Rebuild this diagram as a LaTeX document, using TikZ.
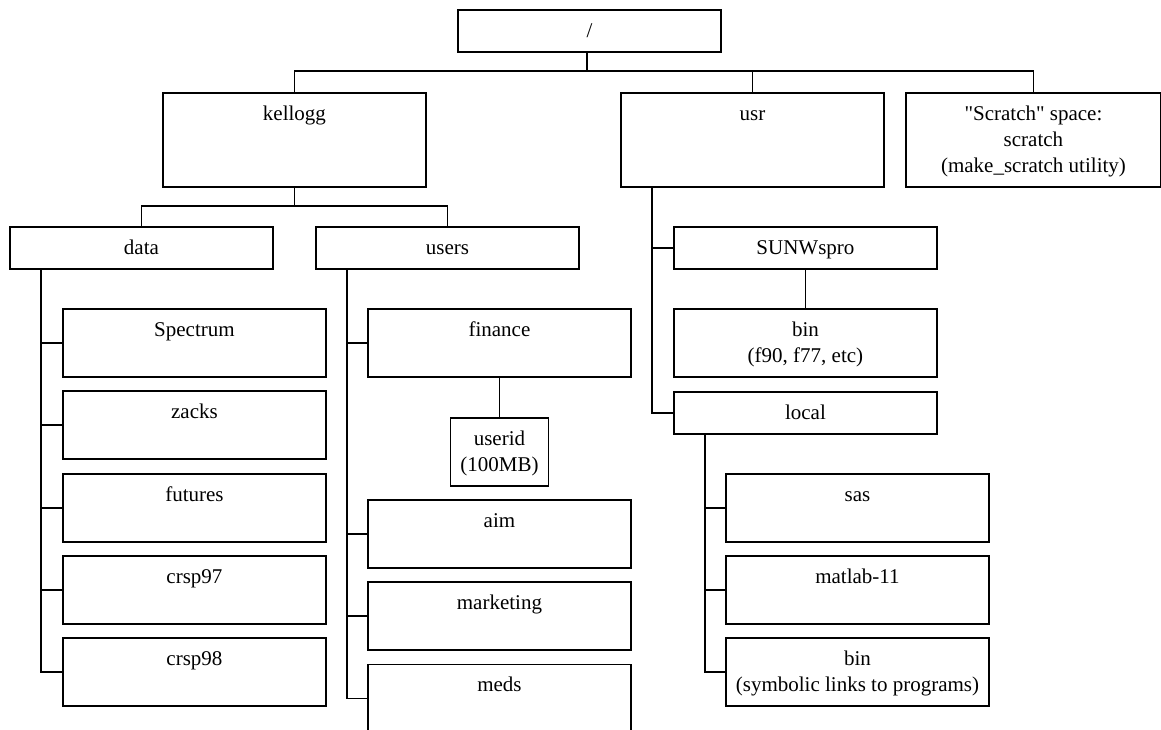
\documentclass[tikz,border=0pt]{standalone}
\usepackage{fontspec}
\setmainfont{Liberation Serif}[Ligatures=TeXOff]

\begin{document}
\begin{tikzpicture}[x=1pt, y=-1pt, line width=1.9pt,
        box/.style = {draw, anchor=north west, inner xsep=0pt, inner ysep=0pt,
                      align=center, minimum width=263pt, text height=27.5pt,
                      font=\fontsize{21}{26}\selectfont},
        short/.style = {box, text depth=14.5pt},
        leaf/.style = {box, text depth=40.5pt},
        tall/.style = {box, text depth=66.5pt},
        twolines/.style = {text height=53.5pt, text depth=14.5pt},
        threelines/.style = {text height=79.5pt, text depth=14.5pt}]
                \clip (0,0) rectangle (1161,729);

                % top of the tree
                \node[short] (root) at (457,9) {/};
                \node[tall] (kellogg) at (162,92) {kellogg};
                \node[tall] (usr) at (620,92) {usr};
                \node[tall, threelines, minimum width=255pt] (scratch) at (905,92)
                    {"Scratch" space:\\scratch\\(make\_scratch utility)};

                % kellogg
                \node[short] (data) at (9,226) {data};
                \node[short] (users) at (315,226) {users};

                \node[leaf] (spectrum) at (62,308) {Spectrum};
                \node[leaf] (zacks) at (62,390) {zacks};
                \node[leaf] (futures) at (62,473) {futures};
                \node[leaf] (crsp97) at (62,555) {crsp97};
                \node[leaf] (crsp98) at (62,637) {crsp98};

                \node[leaf] (finance) at (367,308) {finance};
                \node[leaf, twolines, minimum width=98pt] (userid) at (449.5,417)
                    {userid\\(100MB)};
                \node[leaf] (aim) at (367,499) {aim};
                \node[leaf] (marketing) at (367,581) {marketing};
                \node[leaf] (meds) at (367,663.5) {meds};

                % usr
                \node[short] (sunwspro) at (673,226) {SUNWspro};
                \node[leaf, twolines] (sunwbin) at (673,308) {bin\\(f90, f77, etc)};
                \node[short] (local) at (673,391) {local};
                \node[leaf] (sas) at (725,473) {sas};
                \node[leaf] (matlab) at (725,555) {matlab-11};
                \node[leaf, twolines] (localbin) at (725,637)
                    {bin\\(symbolic links to programs)};

                \coordinate (rootbus) at (587,71);
                \coordinate (kelloggbus) at (294.5,206);
                \coordinate (datatrunk) at (41,268);
                \coordinate (userstrunk) at (346.7,268);
                \coordinate (usrtrunk) at (652,186);
                \coordinate (localtrunk) at (705,433);

                \draw (root.south -| rootbus) -- (rootbus);
                \draw (kellogg.north) |- (rootbus) -| (scratch.north);
                \draw (rootbus) -| (usr.north);

                \draw (kellogg.south) -- (kellogg.south |- kelloggbus);
                \draw (data.north) |- (kelloggbus) -| (users.north);

                \draw (datatrunk) |- (crsp98.west);
                \draw (datatrunk |- spectrum.west) -- (spectrum.west);
                \draw (datatrunk |- zacks.west) -- (zacks.west);
                \draw (datatrunk |- futures.west) -- (futures.west);
                \draw (datatrunk |- crsp97.west) -- (crsp97.west);

                \draw (userstrunk) |- (meds.west);
                \draw (userstrunk |- finance.west) -- (finance.west);
                \draw (userstrunk |- aim.west) -- (aim.west);
                \draw (userstrunk |- marketing.west) -- (marketing.west);
                \draw (finance.south) -- (userid.north);

                \draw (usrtrunk) |- (local.west);
                \draw (usrtrunk |- sunwspro.west) -- (sunwspro.west);
                \draw (sunwspro.south) -- (sunwbin.north);

                \draw (localtrunk) |- (localbin.west);
                \draw (localtrunk |- sas.west) -- (sas.west);
                \draw (localtrunk |- matlab.west) -- (matlab.west);
            \end{tikzpicture}
\end{document}
